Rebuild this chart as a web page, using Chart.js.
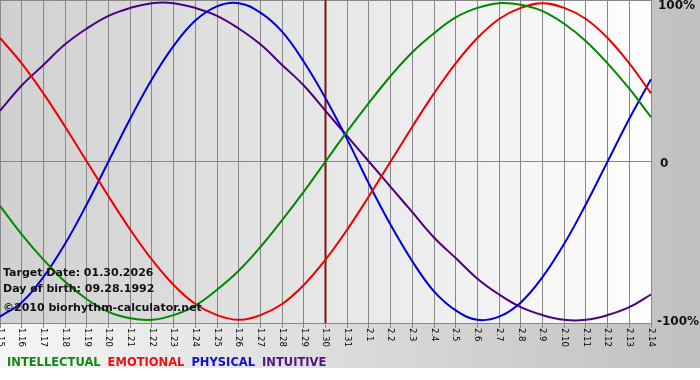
<!DOCTYPE html>
<html>
<head>
<meta charset="utf-8">
<script src="https://cdn.jsdelivr.net/npm/chart.js@4"></script>
<style>
  html, body { margin: 0; padding: 0; background: #fff; }
  #wrap { width: 700px; height: 380px; }
</style>
</head>
<body>
<div id="wrap"><canvas id="c" width="700" height="380"></canvas></div>
<script>
// days shown (month.day)
const days = [
  "1.15", "1.16", "1.17", "1.18", "1.19", "1.20", "1.21", "1.22", "1.23", "1.24",
  "1.25", "1.26", "1.27", "1.28", "1.29", "1.30", "1.31", "2.1", "2.2", "2.3",
  "2.4", "2.5", "2.6", "2.7", "2.8", "2.9", "2.10", "2.11", "2.12", "2.13", "2.14"
];
// values in %
const intellectual = [-28, -46, -62, -76, -87, -95, -99, -100, -97, -91, -81, -69, -54, -37, -19, 0,
  19, 37, 54, 69, 81, 91, 97, 100, 99, 95, 87, 76, 62, 46, 28];
const emotional = [78, 62, 43, 22, 0, -22, -43, -62, -78, -90, -97, -100, -97, -90, -78, -62,
  -43, -22, 0, 22, 43, 62, 78, 90, 97, 100, 97, 90, 78, 62, 43];
const physical = [-98, -89, -73, -52, -27, 0, 27, 52, 73, 89, 98, 100, 94, 82, 63, 40,
  14, -14, -40, -63, -82, -94, -100, -98, -89, -73, -52, -27, 0, 27, 52];
const intuitive = [32, 48, 61, 74, 84, 92, 97, 100, 100, 97, 92, 84, 74, 61, 48, 32,
  16, 0, -16, -32, -48, -61, -74, -84, -92, -97, -100, -100, -97, -92, -84];
const yTicks = [100, 0, -100];
const targetDay = "1.30";

const legendItems = [
  ["INTELLECTUAL", "#118811"],
  ["EMOTIONAL", "#ee1111"],
  ["PHYSICAL", "#1111cc"],
  ["INTUITIVE", "#551188"]
];
const infoLines = [
  "Target Date: 01.30.2026",
  "Day of birth: 09.28.1992",
  "\u00a92010 biorhythm-calculator.net"
];

const GRID = "#888888";

const backdrop = {
  id: "backdrop",
  beforeDraw(chart) {
    const ctx = chart.ctx;
    const a = chart.chartArea;
    ctx.save();
    ctx.fillStyle = "#ffffff";
    ctx.fillRect(0, 0, chart.width, chart.height);
    let g = ctx.createLinearGradient(0, 0, chart.width, 0);
    g.addColorStop(0, "#f6f6f6");
    g.addColorStop(1, "#c0c0c0");
    ctx.fillStyle = g;
    ctx.fillRect(0, 0, chart.width, 368);
    g = ctx.createLinearGradient(a.left, 0, a.right, 0);
    g.addColorStop(0, "#d0d0d0");
    g.addColorStop(1, "#fefefe");
    ctx.fillStyle = g;
    ctx.fillRect(a.left, a.top, a.right - a.left, a.bottom - a.top);
    ctx.restore();
  },
  beforeDatasetsDraw(chart) {
    const ctx = chart.ctx;
    const a = chart.chartArea;
    const x = chart.scales.x.getPixelForValue(days.indexOf(targetDay));
    ctx.save();
    ctx.strokeStyle = GRID;
    ctx.lineWidth = 1;
    ctx.beginPath();
    ctx.moveTo(a.left, a.top + 0.5);
    ctx.lineTo(a.right, a.top + 0.5);
    ctx.stroke();
    ctx.strokeStyle = "#7a1414";
    ctx.lineWidth = 2;
    ctx.beginPath();
    ctx.moveTo(x, a.top);
    ctx.lineTo(x, a.bottom);
    ctx.stroke();
    ctx.restore();
  },
  afterDraw(chart) {
    const ctx = chart.ctx;
    const a = chart.chartArea;
    const xs = chart.scales.x;
    const ys = chart.scales.y;
    ctx.save();
    // day labels, rotated to read downward
    ctx.fillStyle = "#000";
    ctx.font = "8.5px 'DejaVu Sans'";
    ctx.textAlign = "left";
    ctx.textBaseline = "middle";
    days.forEach((d, i) => {
      ctx.save();
      ctx.translate(xs.getPixelForTick(i), a.bottom + 5);
      ctx.rotate(Math.PI / 2);
      ctx.fillText(d, 0, 0);
      ctx.restore();
    });
    // percent labels on the right
    ctx.font = "bold 12px 'DejaVu Sans'";
    ctx.fillStyle = "#111";
    yTicks.forEach(v => {
      const t = v === 0 ? "0" : v + "%";
      ctx.fillText(t, a.right + (v === 0 ? 9 : v > 0 ? 7 : 6), ys.getPixelForValue(v) + 2.5);
    });
    // info text
    ctx.font = "bold 11px 'DejaVu Sans'";
    ctx.textBaseline = "alphabetic";
    ctx.fillText(infoLines[0], 3, 276);
    ctx.fillText(infoLines[1], 3, 292);
    ctx.fillText(infoLines[2], 3, 311);
    // legend
    ctx.font = "bold 11.5px 'DejaVu Sans'";
    let lx = 7;
    legendItems.forEach(([t, c]) => {
      ctx.fillStyle = c;
      ctx.fillText(t, lx, 366);
      lx += ctx.measureText(t).width + 7;
    });
    ctx.restore();
  }
};

const line = (label, data, color) => ({
  label,
  data,
  borderColor: color,
  borderWidth: 2,
  pointRadius: 0,
  tension: 0.4,
  fill: false
});

new Chart(document.getElementById("c"), {
  type: "line",
  data: {
    labels: days,
    datasets: [
      line("INTELLECTUAL", intellectual, "#008800"),
      line("EMOTIONAL", emotional, "#ee0000"),
      line("PHYSICAL", physical, "#0000dd"),
      line("INTUITIVE", intuitive, "#4b0082")
    ]
  },
  options: {
    responsive: false,
    animation: false,
    layout: { padding: 0 },
    plugins: {
      legend: { display: false },
      tooltip: { enabled: false }
    },
    scales: {
      x: {
        offset: false,
        afterFit(s) { s.height = 57; s.paddingLeft = 0; s.paddingRight = 0; },
        grid: { color: GRID, lineWidth: 1, drawTicks: true, tickLength: 5 },
        border: { color: GRID },
        ticks: { display: false, autoSkip: false }
      },
      y: {
        position: "right",
        min: -102,
        max: 102,
        afterFit(s) { s.width = 49; s.paddingTop = 0; s.paddingBottom = 0; },
        afterBuildTicks(s) { s.ticks = yTicks.map(v => ({ value: v })); },
        grid: {
          drawTicks: false,
          color: c => (c.tick && c.tick.value === 0 ? GRID : "rgba(0,0,0,0)")
        },
        border: { color: GRID },
        ticks: { display: false }
      }
    }
  },
  plugins: [backdrop]
});
</script>
</body>
</html>
